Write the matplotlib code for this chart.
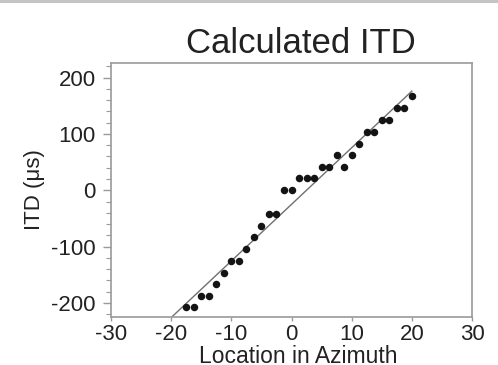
"""Calculated ITD vs azimuth: scatter of quantised ITD values with fitted line."""
import matplotlib
matplotlib.use("Agg")
import matplotlib.pyplot as plt
from matplotlib.patches import Rectangle
from matplotlib.ticker import MultipleLocator

# data
azimuth = [-17.5, -16.25, -15, -13.75, -12.5, -11.25, -10, -8.75, -7.5, -6.25,
           -5, -3.75, -2.5, -1.25, 0, 1.25, 2.5, 3.75, 5, 6.25,
           7.5, 8.75, 10, 11.25, 12.5, 13.75, 15, 16.25, 17.5, 18.75, 20]
itd_us = [-208, -208, -188, -188, -167, -146, -125, -125, -104, -83,
          -63, -42, -42, 0, 0, 21, 21, 21, 42, 42,
          63, 42, 63, 83, 104, 104, 125, 125, 146, 146, 167]
fit_x = [-20, 20]
fit_y = [-226, 176]

x_ticks = [-30, -20, -10, 0, 10, 20, 30]
y_ticks = [-200, -100, 0, 100, 200]

TEXT = "#222222"
SPINE = "#9a9a9a"

plt.rcParams["font.family"] = ["Liberation Sans", "DejaVu Sans"]
plt.rcParams["axes.unicode_minus"] = False

W, H = 498, 365
fig = plt.figure(figsize=(W / 100, H / 100), dpi=100)
ax = fig.add_axes([111 / W, 1 - 317 / H, 361 / W, 254 / H])

ax.plot(fit_x, fit_y, color="#707070", lw=1.0, zorder=2)
ax.plot(azimuth, itd_us, "o", color="#141414", ms=5.4, mew=0, zorder=3)

ax.set_xlim(-30, 30)
ax.set_ylim(-225, 226)
ax.set_xticks(x_ticks)
ax.set_yticks(y_ticks)
ax.yaxis.set_minor_locator(MultipleLocator(20))

for s in ax.spines.values():
    s.set_color(SPINE)
    s.set_linewidth(1.2)

ax.tick_params(axis="x", which="major", length=3, width=1, color=SPINE,
               labelsize=16, labelcolor=TEXT, pad=2)
ax.tick_params(axis="y", which="major", length=6, width=1, color=SPINE,
               labelsize=16, labelcolor=TEXT, pad=5)
ax.tick_params(axis="y", which="minor", length=3.5, width=0.8, color=SPINE)

ax.set_ylabel("ITD (μs)", fontsize=16, color=TEXT, va="center")
ax.yaxis.set_label_coords(-0.213, 0.5)
# the reference crops this label at the bottom edge; keep its baseline just inside
ax.set_xlabel("Location in Azimuth", fontsize=16.5, color=TEXT, va="baseline")
ax.xaxis.set_label_coords(0.518, -(363 - 317) / 254)

fig.text(301 / W, 1 - 53.3 / H, "Calculated ITD", fontsize=25, color=TEXT,
         ha="center", va="baseline")

# thin grey band along the top edge of the picture
fig.patches.append(Rectangle((0, 1 - 2.5 / H), 1, 2.5 / H, transform=fig.transFigure,
                             facecolor="#c4c4c4", edgecolor="none"))

fig.savefig("out.png", dpi=100)
